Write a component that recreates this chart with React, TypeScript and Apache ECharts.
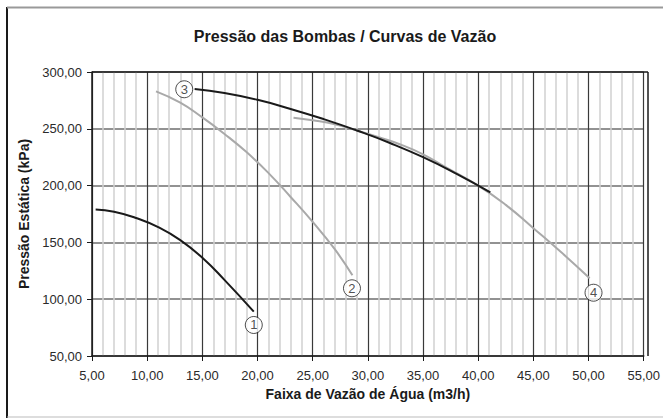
import React, { useEffect, useRef } from "react";
import * as echarts from "echarts";

const curve1X = [5.33, 7, 9, 11, 13, 15, 17, 19.66];
const curve1Y = [179, 177, 171.5, 163.5, 152, 136.5, 117, 89];

const curve2X = [10.8, 13, 15, 17, 19, 21, 23, 25, 27, 28.6];
const curve2Y = [283, 273, 260, 245.5, 229.5, 211, 190, 168, 144, 121];

const curve3X = [14.3, 17, 20, 23, 26, 29, 32, 35, 38, 41.1];
const curve3Y = [285, 281.5, 275.5, 267.5, 258.5, 248.5, 237.5, 225, 210.5, 194];

const curve4X = [23.26, 25, 27, 29, 31, 33, 35, 37, 40, 42.5, 45, 47.5, 50.1];
const curve4Y = [259.8, 257.5, 254, 248.5, 242.5, 236, 227.5, 216.5, 200, 183, 162.5, 141.5, 118.4];

const labelNames = ["1", "2", "3", "4"];
const labelX = [19.66, 28.56, 13.36, 50.45];
const labelY = [77.3, 109.6, 284.8, 105.7];

const xMin = 5;
const xMax = 55;
const xStep = 5;
const yMin = 50;
const yMax = 300;
const yStep = 50;

const titleText = "Pressão das Bombas / Curvas de Vazão";
const xName = "Faixa de Vazão de Água (m3/h)";
const yName = "Pressão Estática (kPa)";

const FONT = "'Liberation Sans', Arial, Helvetica, sans-serif";

function pairs(xs: number[], ys: number[]) {
  return xs.map((x, i) => [x, ys[i]]);
}

function fmt(v: number) {
  return v.toFixed(2).replace(".", ",");
}

export default function App() {
  const ref = useRef<HTMLDivElement>(null);
  useEffect(() => {
    if (!ref.current) return;
    const chart = echarts.init(ref.current, undefined, { renderer: "svg" });
    const lineSeries = (data: number[][], color: string) => ({
      type: "line",
      data,
      smooth: true,
      showSymbol: false,
      symbol: "none",
      lineStyle: { color, width: 2 },
      silent: true,
      z: 3,
    });
    chart.setOption({
      animation: false,
      backgroundColor: "#ffffff",
      title: {
        text: titleText,
        left: 340,
        top: 23,
        textAlign: "center",
        textStyle: { fontFamily: FONT, fontSize: 16, fontWeight: "bold", color: "#1a1a1a" },
      },
      grid: { left: 92, right: 15, top: 72, bottom: 62, containLabel: false },
      xAxis: {
        type: "value",
        min: xMin,
        max: xMax,
        interval: xStep,
        name: xName,
        nameLocation: "middle",
        nameGap: 25,
        nameTextStyle: { fontFamily: FONT, fontSize: 14, fontWeight: "bold", color: "#1a1a1a" },
        axisLine: { show: true, lineStyle: { color: "#1a1a1a", width: 1.5 } },
        axisTick: { show: true, length: 5, lineStyle: { color: "#1a1a1a" } },
        axisLabel: { formatter: fmt, fontFamily: FONT, fontSize: 13, color: "#2a2a2a", margin: 13 },
        splitLine: { show: true, lineStyle: { color: "#3a3a3a", width: 1.2 } },
        minorTick: { show: false, splitNumber: 5 },
        minorSplitLine: { show: true, lineStyle: { color: "#d0d0d0", width: 1.5 } },
      },
      yAxis: {
        type: "value",
        min: yMin,
        max: yMax,
        interval: yStep,
        name: yName,
        nameLocation: "middle",
        nameGap: 54,
        nameTextStyle: { fontFamily: FONT, fontSize: 14, fontWeight: "bold", color: "#1a1a1a" },
        axisLine: { show: true, lineStyle: { color: "#1a1a1a", width: 1.5 } },
        axisTick: { show: true, length: 5, lineStyle: { color: "#1a1a1a" } },
        axisLabel: { formatter: fmt, fontFamily: FONT, fontSize: 13, color: "#2a2a2a", margin: 10 },
        splitLine: { show: true, lineStyle: { color: "#6e6e6e", width: 1.5 } },
      },
      graphic: [
        { type: "line", shape: { x1: 7, y1: 7, x2: 7, y2: 418 }, style: { stroke: "#1a1a1a", lineWidth: 2 } },
        { type: "line", shape: { x1: 7, y1: 7.5, x2: 663, y2: 7.5 }, style: { stroke: "#999999", lineWidth: 2 } },
        { type: "line", shape: { x1: 7, y1: 417, x2: 663, y2: 417 }, style: { stroke: "#bbbbbb", lineWidth: 1 } },
        { type: "line", shape: { x1: 92, y1: 72, x2: 648, y2: 72 }, style: { stroke: "#1a1a1a", lineWidth: 1.5 }, z: 10 },
        { type: "line", shape: { x1: 648, y1: 72, x2: 648, y2: 356 }, style: { stroke: "#1a1a1a", lineWidth: 1.5 }, z: 10 },
      ],
      series: [
        lineSeries(pairs(curve1X, curve1Y), "#1a1a1a"),
        lineSeries(pairs(curve2X, curve2Y), "#a9a9a9"),
        lineSeries(pairs(curve4X, curve4Y), "#a9a9a9"),
        lineSeries(pairs(curve3X, curve3Y), "#1a1a1a"),
        {
          type: "scatter",
          data: labelNames.map((n, i) => ({ name: n, value: [labelX[i], labelY[i]] })),
          symbol: "circle",
          symbolSize: 17,
          itemStyle: { color: "#ffffff", borderColor: "#222", borderWidth: 1 },
          label: {
            show: true,
            position: "inside",
            formatter: (p: any) => p.name,
            fontFamily: FONT,
            fontSize: 13,
            color: "#222",
          },
          silent: true,
          z: 5,
        },
      ],
    });
    return () => chart.dispose();
  }, []);
  return (
    <div
      ref={ref}
      style={{ position: "absolute", left: 0, top: 0, width: 663, height: 418 }}
    />
  );
}
